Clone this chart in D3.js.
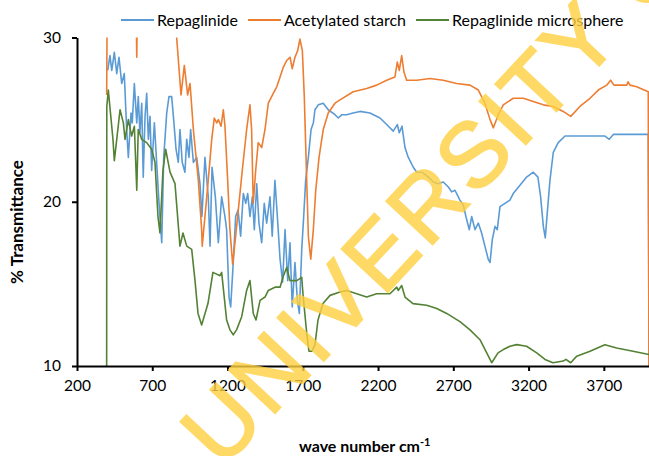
<!DOCTYPE html>
<html>
<head>
<meta charset="utf-8">
<script src="https://cdn.jsdelivr.net/npm/d3@7/dist/d3.min.js"></script>
<style>
body { margin: 0; background: #fff; }
text { font-family: Lato, "Open Sans", sans-serif; }
</style>
</head>
<body>
<svg id="chart" width="649" height="456"></svg>
<script>
// values: [wave number, % transmittance]
var xTicks = [200, 700, 1200, 1700, 2200, 2700, 3200, 3700];
var yTicks = [10, 20, 30];
var seriesNames = ["Repaglinide", "Acetylated starch", "Repaglinide microsphere"];

var repaglinide = [
    [404, 28.0], [419, 28.9], [431, 28.0], [448, 29.1], [464, 27.8], [479, 28.8], [497, 27.2], [514, 27.8],
    [530, 24.4], [541, 22.7], [559, 25.4], [567, 24.8], [581, 27.2], [597, 24.8], [607, 26.4], [618, 24.2],
    [630, 26.0], [640, 21.5], [652, 25.2], [663, 26.6], [674, 23.8], [685, 25.2], [696, 21.9], [714, 24.8],
    [729, 22.4], [745, 19.9], [763, 17.5], [776, 22.7], [796, 25.4], [811, 26.4], [829, 26.4], [844, 24.8],
    [858, 23.2], [873, 22.4], [884, 24.4], [899, 22.4], [917, 21.8], [929, 23.8], [944, 22.7], [955, 24.4],
    [973, 22.4], [995, 22.7], [1017, 21.1], [1030, 19.1], [1050, 22.7], [1072, 20.3], [1084, 17.3], [1097, 22.1],
    [1119, 20.3], [1139, 17.5], [1161, 20.3], [1183, 19.1], [1194, 18.3], [1210, 14.2], [1221, 13.6], [1238, 16.3],
    [1254, 19.1], [1270, 19.5], [1287, 17.9], [1305, 20.5], [1321, 19.9], [1334, 20.5], [1349, 19.1], [1365, 20.3],
    [1378, 18.3], [1394, 21.1], [1409, 18.7], [1427, 17.5], [1444, 19.9], [1460, 18.7], [1482, 20.3], [1497, 17.9],
    [1515, 21.3], [1531, 19.1], [1549, 16.5], [1566, 15.1], [1582, 18.3], [1600, 15.2], [1615, 17.5], [1630, 13.6],
    [1648, 16.3], [1664, 14.0], [1677, 13.2], [1693, 17.1], [1706, 19.1], [1719, 21.3], [1737, 22.7], [1755, 24.4],
    [1770, 24.8], [1781, 25.6], [1803, 25.9], [1836, 26.0], [1869, 25.6], [1914, 25.3], [1936, 25.1], [1960, 25.3],
    [1992, 25.3], [2034, 25.4], [2080, 25.5], [2146, 25.4], [2213, 25.1], [2257, 24.7], [2301, 24.3], [2328, 24.7],
    [2341, 24.2], [2359, 24.6], [2379, 23.3], [2401, 22.7], [2434, 22.1], [2457, 21.8], [2490, 21.8], [2534, 21.5],
    [2567, 21.2], [2600, 21.1], [2633, 21.2], [2667, 20.9], [2689, 20.6], [2711, 20.7], [2744, 20.1], [2766, 19.8],
    [2789, 18.9], [2806, 18.3], [2822, 19.1], [2844, 18.3], [2866, 18.7], [2888, 18.1], [2910, 17.3], [2932, 16.5],
    [2944, 16.3], [2959, 17.7], [2977, 18.5], [2992, 18.3], [3010, 19.7], [3043, 19.9], [3076, 20.1], [3098, 20.5],
    [3143, 21.0], [3187, 21.5], [3231, 21.8], [3262, 21.5], [3280, 20.3], [3298, 18.5], [3311, 17.8], [3324, 19.3],
    [3342, 21.3], [3364, 23.0], [3397, 23.6], [3442, 24.0], [3707, 24.0], [3736, 23.8], [3763, 24.1], [3995, 24.1],
    [4000, 10]
];

var acetylatedStarch = [
    [397, 26.5], [402, 34], [590, 34], [597, 28.8], [604, 34], [840, 34], [862, 30.0], [891, 26.5],
    [913, 28.3], [935, 26.5], [951, 27.2], [973, 24.4], [1006, 21.3], [1028, 18.3], [1032, 17.3], [1050, 19.1],
    [1072, 21.3], [1095, 23.8], [1112, 25.1], [1128, 24.8], [1139, 25.0], [1157, 24.6], [1172, 25.6], [1183, 24.6],
    [1201, 21.3], [1216, 18.3], [1234, 16.2], [1254, 17.9], [1276, 19.9], [1298, 21.9], [1327, 24.4], [1349, 25.9],
    [1360, 24.4], [1371, 19.9], [1387, 21.9], [1404, 23.6], [1427, 23.3], [1449, 24.4], [1471, 26.0], [1504, 26.6],
    [1527, 27.0], [1549, 27.6], [1571, 28.2], [1593, 28.6], [1615, 28.8], [1630, 28.1], [1648, 28.8], [1666, 29.2],
    [1681, 29.9], [1697, 29.2], [1710, 26.4], [1726, 21.3], [1737, 17.9], [1753, 16.5], [1770, 18.3], [1786, 20.7],
    [1808, 22.7], [1836, 24.4], [1869, 25.4], [1914, 26.0], [1947, 26.2], [2035, 26.7], [2124, 26.9], [2191, 27.1],
    [2257, 27.4], [2312, 27.6], [2328, 28.5], [2341, 28.0], [2357, 28.9], [2372, 27.9], [2390, 27.4], [2457, 27.4],
    [2545, 27.5], [2633, 27.4], [2722, 27.2], [2811, 27.1], [2866, 26.8], [2910, 26.0], [2944, 25.0], [2966, 24.5],
    [2999, 25.3], [3032, 25.9], [3098, 26.3], [3165, 26.3], [3231, 26.1], [3298, 25.9], [3364, 25.8], [3430, 25.5],
    [3480, 25.2], [3541, 25.8], [3608, 26.3], [3663, 26.8], [3719, 27.1], [3745, 27.4], [3767, 27.1], [3852, 27.1],
    [3861, 27.3], [3874, 27.1], [3918, 27.0], [3995, 26.7], [4000, 10]
];

var microsphere = [
    [397, 10], [398, 25.8], [408, 26.8], [439, 23.8], [448, 22.5], [464, 23.8], [486, 25.6], [508, 24.8],
    [519, 23.8], [541, 25.0], [563, 24.0], [581, 24.6], [597, 20.7], [607, 24.4], [630, 23.8], [663, 23.6],
    [696, 23.2], [718, 22.4], [738, 19.1], [751, 18.1], [771, 21.9], [789, 23.2], [818, 21.8], [851, 21.1],
    [884, 17.3], [904, 18.1], [929, 17.3], [962, 17.1], [984, 15.2], [1004, 13.2], [1028, 12.5], [1070, 13.8],
    [1103, 15.7], [1150, 15.5], [1161, 15.7], [1194, 12.8], [1216, 12.2], [1238, 11.9], [1260, 12.2], [1294, 13.0],
    [1327, 14.6], [1349, 15.2], [1371, 13.2], [1389, 12.8], [1416, 14.0], [1449, 14.2], [1471, 14.6], [1515, 14.8],
    [1549, 14.8], [1568, 15.4], [1593, 16.0], [1615, 15.2], [1637, 15.2], [1660, 15.2], [1693, 15.4], [1701, 14.4],
    [1726, 12.0], [1741, 10.9], [1761, 10.9], [1781, 11.3], [1801, 12.8], [1834, 13.8], [1881, 14.3], [1947, 14.5],
    [1992, 14.6], [2058, 14.4], [2124, 14.2], [2191, 14.4], [2279, 14.4], [2324, 14.8], [2334, 14.6], [2357, 14.9],
    [2379, 14.2], [2432, 13.8], [2523, 13.7], [2590, 13.5], [2656, 13.2], [2744, 12.7], [2811, 12.2], [2877, 11.6],
    [2922, 10.8], [2955, 10.2], [2997, 10.8], [3032, 11.0], [3076, 11.2], [3121, 11.3], [3187, 11.2], [3254, 10.8],
    [3309, 10.4], [3362, 10.2], [3430, 10.3], [3448, 10.4], [3480, 10.2], [3520, 10.6], [3608, 10.9], [3707, 11.3],
    [3785, 11.1], [3894, 10.9], [4000, 10.7]
];

var colors = ["#5b9bd5", "#ed7d31", "#548235"];

var svg = d3.select("#chart");
var plotLeft = 77, plotRight = 649, plotTop = 37.5, plotBottom = 366;

var x = d3.scaleLinear().domain([200, 4000]).range([plotLeft, plotRight]);
var y = d3.scaleLinear().domain([10, 30]).range([plotBottom, plotTop]);

svg.append("defs").append("clipPath")
    .attr("id", "plot")
    .append("rect")
    .attr("x", plotLeft)
    .attr("y", plotTop)
    .attr("width", plotRight - plotLeft + 2)
    .attr("height", plotBottom - plotTop);

var line = d3.line()
    .x(function (d) { return x(d[0]); })
    .y(function (d) { return y(d[1]); });

svg.append("g")
    .attr("clip-path", "url(#plot)")
    .selectAll("path")
    .data([repaglinide, acetylatedStarch, microsphere])
    .enter()
    .append("path")
    .attr("d", line)
    .attr("fill", "none")
    .attr("stroke", function (d, i) { return colors[i]; })
    .attr("stroke-width", 1.6)
    .attr("stroke-linejoin", "round");

// axes
var xAxis = svg.append("g")
    .attr("transform", "translate(0," + plotBottom + ")")
    .call(d3.axisBottom(x).tickValues(xTicks).tickFormat(d3.format("d"))
        .tickSize(5).tickSizeOuter(0).tickPadding(9));
var yAxis = svg.append("g")
    .attr("transform", "translate(" + plotLeft + ",0)")
    .call(d3.axisLeft(y).tickValues(yTicks).tickFormat(d3.format("d"))
        .tickSize(5).tickSizeOuter(0).tickPadding(11));

[xAxis, yAxis].forEach(function (a) {
    a.select(".domain").attr("stroke", "#000").attr("stroke-width", 2);
    a.selectAll(".tick line").attr("stroke", "#000").attr("stroke-width", 2);
    a.selectAll(".tick text").style("font-size", "15.5px").style("fill", "#000");
});

svg.append("text")
    .attr("transform", "translate(23,222) rotate(-90)")
    .attr("text-anchor", "middle")
    .style("font-size", "17px")
    .style("font-weight", "bold")
    .text("% Transmittance");

var xt = svg.append("text")
    .attr("x", 299)
    .attr("y", 452)
    .style("font-size", "16px")
    .style("font-weight", "bold");
xt.append("tspan").text("wave number cm");
xt.append("tspan").attr("dy", -6).style("font-size", "11px").text("-1");

// legend
var lx = 121;
seriesNames.forEach(function (name, i) {
    svg.append("line")
        .attr("x1", lx).attr("x2", lx + 33)
        .attr("y1", 20).attr("y2", 20)
        .attr("stroke", colors[i])
        .attr("stroke-width", 2);
    var t = svg.append("text")
        .attr("x", lx + 36)
        .attr("y", 26)
        .style("font-size", "16px")
        .text(name);
    lx += 36 + t.node().getComputedTextLength() + 10;
});

// watermark
svg.append("text")
    .attr("transform", "translate(222,470) rotate(-47)")
    .style("font-family", "'Liberation Sans', Arial, sans-serif")
    .style("font-size", "92px")
    .style("letter-spacing", "4px")
    .style("fill", "rgb(255,208,64)")
    .style("stroke", "rgb(255,208,64)")
    .style("stroke-width", 2)
    .style("opacity", 0.8)
    .text("UNIVERSITY OF");
</script>
</body>
</html>
